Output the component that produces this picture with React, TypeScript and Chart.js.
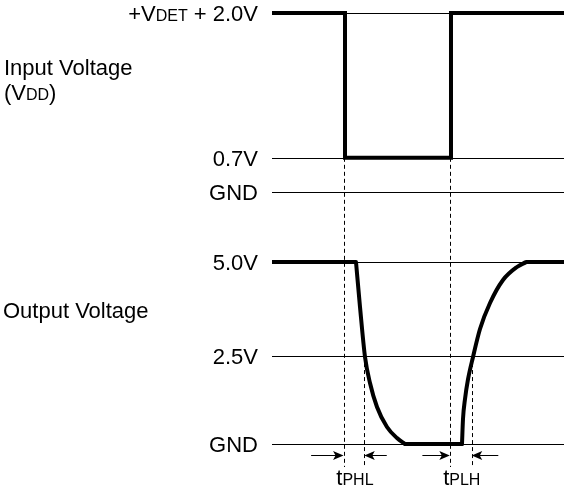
import React, { useEffect, useRef } from "react";
import { Chart, registerables } from "chart.js";

Chart.register(...registerables);

// Schematic units: time runs 0..100 across the plot, level runs 0..100 (diagram position)
const inputTimes = [0, 25, 25, 61.3, 61.3, 100];
const inputLevels = [100, 100, 66.4, 66.4, 100, 100];

// Output: high level, falling edge, low level, rising edge, high level
const outHighLevel = 42.2;
const outLowLevel = 0;
const fallTimes = [28.77, 30.14, 31.85, 33.56, 35.96, 39.38, 42.81, 45.55];
const fallLevels = [42.2, 31.79, 20.19, 14.15, 8.58, 3.94, 1.39, 0];
const riseTimes = [65.07, 65.41, 66.1, 67.12, 68.84, 71.23, 74.66, 79.11, 83.9, 86.99];
const riseLevels = [0, 5.8, 10.44, 14.97, 20.19, 26.68, 32.71, 38.05, 41.07, 42.2];
const timeStart = 0;
const timeEnd = 100;

// Reference levels (thin horizontal lines) and their labels; {..} = small text
const refLevels = [100, 66.4, 58.5, 42.2, 20.4, 0];
const refLabels = ["+V{DET} + 2.0V", "0.7V", "GND", "5.0V", "2.5V", "GND"];

// Delay markers
const delayStartTimes = [24.5, 60.9];
const delayEndTimes = [31.6, 68.4];
const delayStartLevels = [66.4, 66.4];
const delayEndLevels = [20.4, 20.4];
const delayLeftTails = [13.4, 51.5];
const delayRightTails = [39.3, 77.5];
const delayLabels = ["t{PHL}", "t{PLH}"];

const sideLabels = ["Input Voltage", "(V{DD})", "Output Voltage"];

const FONT = "'Liberation Sans', Arial, sans-serif";
const BIG = 22;
const SMALL = 16;

function parseRich(s: string) {
  const parts: { text: string; small: boolean }[] = [];
  const re = /\{([^}]*)\}|[^{]+/g;
  let m: RegExpExecArray | null;
  while ((m = re.exec(s))) {
    if (m[1] !== undefined) parts.push({ text: m[1], small: true });
    else parts.push({ text: m[0], small: false });
  }
  return parts;
}

function drawRich(ctx: CanvasRenderingContext2D, s: string, x: number, baseline: number, align: "left" | "right" | "center") {
  const parts = parseRich(s);
  const widths = parts.map((p) => {
    ctx.font = `${p.small ? SMALL : BIG}px ${FONT}`;
    return ctx.measureText(p.text).width;
  });
  const total = widths.reduce((a, b) => a + b, 0);
  let cx = align === "right" ? x - total : align === "center" ? x - total / 2 : x;
  ctx.textAlign = "left";
  ctx.textBaseline = "alphabetic";
  parts.forEach((p, i) => {
    ctx.font = `${p.small ? SMALL : BIG}px ${FONT}`;
    ctx.fillText(p.text, cx, baseline);
    cx += widths[i];
  });
}

function arrowHead(ctx: CanvasRenderingContext2D, tipX: number, y: number, dir: number) {
  const len = 10.5;
  const half = 4.5;
  const notch = 2.5;
  ctx.beginPath();
  ctx.moveTo(tipX, y);
  ctx.lineTo(tipX - dir * len, y - half);
  ctx.lineTo(tipX - dir * (len - notch), y);
  ctx.lineTo(tipX - dir * len, y + half);
  ctx.closePath();
  ctx.fill();
}

const diagramPlugin = {
  id: "diagram",
  beforeDatasetsDraw(chart: any) {
    const { ctx, chartArea } = chart;
    const x = chart.scales.x;
    const y = chart.scales.y;
    ctx.save();
    ctx.strokeStyle = "#000";
    ctx.lineWidth = 1;
    refLevels.forEach((l) => {
      const py = Math.round(y.getPixelForValue(l)) + 0.5;
      ctx.beginPath();
      ctx.moveTo(chartArea.left, py);
      ctx.lineTo(chartArea.right, py);
      ctx.stroke();
    });
    ctx.setLineDash([4, 3]);
    const bottom = y.getPixelForValue(-5.34);
    delayStartTimes.forEach((t, i) => {
      const px = Math.round(x.getPixelForValue(t)) + 0.5;
      ctx.beginPath();
      ctx.moveTo(px, y.getPixelForValue(delayStartLevels[i]));
      ctx.lineTo(px, bottom);
      ctx.stroke();
      const px2 = Math.round(x.getPixelForValue(delayEndTimes[i])) + 0.5;
      ctx.beginPath();
      ctx.moveTo(px2, y.getPixelForValue(delayEndLevels[i]));
      ctx.lineTo(px2, bottom);
      ctx.stroke();
    });
    ctx.restore();
  },
  afterDatasetsDraw(chart: any) {
    const { ctx, chartArea } = chart;
    const x = chart.scales.x;
    const y = chart.scales.y;
    ctx.save();
    ctx.fillStyle = "#000";
    ctx.strokeStyle = "#000";
    ctx.lineWidth = 1;
    const ay = Math.round(y.getPixelForValue(-2.55)) + 0.5;
    delayStartTimes.forEach((t, i) => {
      const sx = x.getPixelForValue(t);
      const ex = x.getPixelForValue(delayEndTimes[i]);
      const lt = x.getPixelForValue(delayLeftTails[i]);
      const rt = x.getPixelForValue(delayRightTails[i]);
      ctx.beginPath();
      ctx.moveTo(lt, ay);
      ctx.lineTo(sx - 2, ay);
      ctx.stroke();
      arrowHead(ctx, sx, ay, 1);
      ctx.beginPath();
      ctx.moveTo(rt, ay);
      ctx.lineTo(ex + 2, ay);
      ctx.stroke();
      arrowHead(ctx, ex, ay, -1);
      drawRich(ctx, delayLabels[i], (sx + ex) / 2 + 1, y.getPixelForValue(-9.5), "center");
    });
    refLevels.forEach((l, i) => {
      const py = y.getPixelForValue(l);
      drawRich(ctx, refLabels[i], chartArea.left - 14, py + BIG * 0.716 / 2, "right");
    });
    drawRich(ctx, sideLabels[0], 4, 75, "left");
    drawRich(ctx, sideLabels[1], 4, 100, "left");
    drawRich(ctx, sideLabels[2], 3, 318, "left");
    ctx.restore();
  },
};

const lineStyle = {
  borderColor: "#000",
  borderWidth: 4,
  pointRadius: 0,
  clip: false,
};

export default function App() {
  const ref = useRef<HTMLCanvasElement | null>(null);
  useEffect(() => {
    if (!ref.current) return;
    const pts = (xs: number[], ys: number[]) => xs.map((t, i) => ({ x: t, y: ys[i] }));
    const chart = new Chart(ref.current, {
      type: "line",
      data: {
        datasets: [
          {
            ...lineStyle,
            data: pts(inputTimes, inputLevels),
            tension: 0,
            borderJoinStyle: "miter",
            borderCapStyle: "butt",
          } as any,
          {
            ...lineStyle,
            data: [
              { x: timeStart, y: outHighLevel },
              { x: fallTimes[0], y: outHighLevel },
            ],
            tension: 0,
            borderCapStyle: "butt",
          } as any,
          {
            ...lineStyle,
            data: pts(fallTimes, fallLevels),
            cubicInterpolationMode: "monotone",
            tension: 0.4,
            borderCapStyle: "round",
          } as any,
          {
            ...lineStyle,
            data: [
              { x: fallTimes[fallTimes.length - 1], y: outLowLevel },
              { x: riseTimes[0], y: outLowLevel },
            ],
            tension: 0,
            borderCapStyle: "round",
          } as any,
          {
            ...lineStyle,
            data: pts(riseTimes, riseLevels),
            cubicInterpolationMode: "monotone",
            tension: 0.4,
            borderCapStyle: "round",
          } as any,
          {
            ...lineStyle,
            data: [
              { x: riseTimes[riseTimes.length - 1], y: outHighLevel },
              { x: timeEnd, y: outHighLevel },
            ],
            tension: 0,
            borderCapStyle: "butt",
          } as any,
        ],
      },
      options: {
        animation: false,
        responsive: false,
        devicePixelRatio: 1,
        events: [],
        layout: { padding: { left: 272, right: 0, top: 13, bottom: 44 } },
        scales: {
          x: { type: "linear", min: 0, max: 100, display: false },
          y: { type: "linear", min: 0, max: 100, display: false },
        },
        plugins: { legend: { display: false }, tooltip: { enabled: false } },
      },
      plugins: [diagramPlugin],
    });
    return () => chart.destroy();
  }, []);
  return (
    <canvas
      ref={ref}
      width={564}
      height={488}
      style={{ position: "absolute", left: 0, top: 0, background: "#fff" }}
    />
  );
}
